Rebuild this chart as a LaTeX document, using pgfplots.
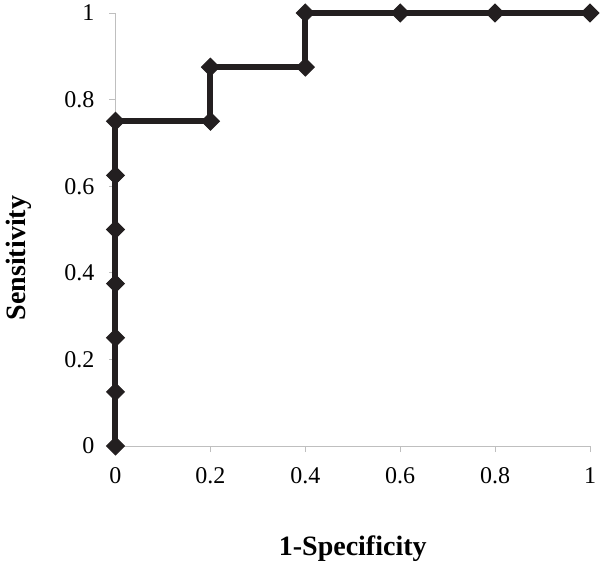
\documentclass[border=0pt]{standalone}
\usepackage{fontspec}
\setmainfont{Liberation Serif}
\usepackage{pgfplots}
\pgfplotsset{compat=1.18}
\definecolor{axgray}{HTML}{BFBFBF}
\definecolor{curve}{HTML}{231F20}
\begin{document}
\begin{tikzpicture}
\begin{axis}[
  scale only axis,
  width=474.5pt, height=433pt,
  xmin=0, xmax=1, ymin=0, ymax=1,
  axis lines*=left,
  axis line style={axgray, line width=0.8pt},
  tick style={axgray, line width=0.8pt},
  tick align=outside,
  major tick length=6pt,
  xtick={0,0.2,0.4,0.6,0.8,1},
  ytick={0,0.2,0.4,0.6,0.8,1},
  /pgf/number format/assume math mode=true,
  ticklabel style={font=\fontsize{24}{28}\selectfont, text=black},
  yticklabel style={anchor=east, inner sep=0pt, xshift=-15pt},
  xticklabel style={anchor=north, inner sep=0pt, yshift=-15pt},
  xlabel={\textbf{1-Specificity}},
  ylabel={\textbf{Sensitivity}},
  label style={font=\fontsize{28}{32}\selectfont},
  xlabel style={at={(axis description cs:0.5,0)}, anchor=base, yshift=-109pt},
  ylabel style={at={(axis description cs:-0.1907,0.434)}, anchor=base, rotate=0},
  clip=false,
]
\coordinate (O) at (rel axis cs:0,0);
\addplot[curve, line width=6pt, mark=square*, mark size=6.3pt, mark options={rotate=45, line width=1pt, fill=curve, draw=curve}] coordinates {
(0,0) (0,0.125) (0,0.25) (0,0.375) (0,0.5) (0,0.625) (0,0.75) (0.2,0.75) (0.2,0.875) (0.4,0.875) (0.4,1) (0.6,1) (0.8,1) (1,1)
};
\end{axis}
\pgfresetboundingbox
\path (O) ++(-115.5pt,-117pt) rectangle ++(600pt,563pt);
\end{tikzpicture}
\end{document}
